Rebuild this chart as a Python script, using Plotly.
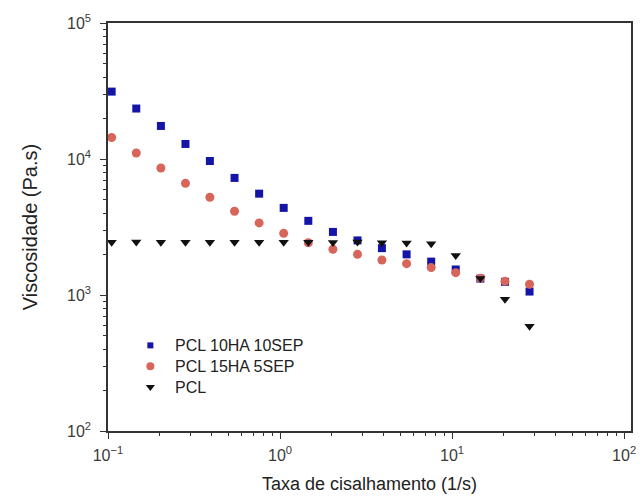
import plotly.graph_objects as go

# shear rate (1/s)
shear_rate = [0.105, 0.146, 0.203, 0.282, 0.391, 0.544, 0.756, 1.05, 1.46,
              2.03, 2.82, 3.91, 5.44, 7.56, 10.5, 14.6, 20.3, 28.2]
# viscosity (Pa.s)
visc_10ha_10sep = [31300, 23500, 17500, 12900, 9670, 7260, 5560, 4370, 3510,
                   2910, 2520, 2210, 1990, 1760, 1540, 1320, 1250, 1060]
visc_15ha_5sep = [14400, 11070, 8590, 6620, 5230, 4130, 3390, 2840, 2420,
                  2170, 1990, 1810, 1700, 1590, 1460, 1330, 1260, 1200]
visc_pcl = [2440, 2450, 2440, 2440, 2440, 2440, 2440, 2440, 2440,
            2430, 2450, 2420, 2410, 2380, 1950, 1320, 930, 590]

series_names = ["PCL 10HA 10SEP", "PCL 15HA 5SEP", "PCL"]
series_colors = ["#1414a8", "#d8655a", "#111111"]
series_symbols = ["square", "circle", "triangle-down"]
series_sizes = [8, 9, 9]
legend_sizes = [6, 8, 8]
series_values = [visc_10ha_10sep, visc_15ha_5sep, visc_pcl]

x_tickvals = [0.1, 1, 10, 100]
x_ticktext = ["10<sup>−1</sup>", "10<sup>0</sup>", "10<sup>1</sup>", "10<sup>2</sup>"]
y_tickvals = [100, 1000, 10000, 100000]
y_ticktext = ["10<sup>2</sup>", "10<sup>3</sup>", "10<sup>4</sup>", "10<sup>5</sup>"]

x_minor = [m * 10 ** e for e in (-1, 0, 1) for m in range(2, 10)]
y_minor = [m * 10 ** e for e in (2, 3, 4) for m in range(2, 10)]

FONT = "Liberation Sans, Arial, sans-serif"
LEGEND_FONT = 16

fig = go.Figure()
for name, vals, col, sym, sz in zip(series_names, series_values, series_colors,
                                    series_symbols, series_sizes):
    fig.add_trace(go.Scatter(x=shear_rate, y=vals, mode="markers", name=name,
                             showlegend=False,
                             marker=dict(symbol=sym, size=sz, color=col)))

# custom legend: markers on an overlay axis (plot-fraction units), labels as one text block
legend_x_marker = 0.081
legend_x_text = 0.125
legend_center = 0.159
row_step = LEGEND_FONT * 1.3 / 409  # one text line, in plot fraction
legend_rows = [legend_center + row_step, legend_center, legend_center - row_step]
for name, col, sym, sz, ly in zip(series_names, series_colors, series_symbols,
                                  legend_sizes, legend_rows):
    fig.add_trace(go.Scatter(x=[legend_x_marker], y=[ly], mode="markers",
                             xaxis="x2", yaxis="y2", showlegend=False, hoverinfo="skip",
                             marker=dict(symbol=sym, size=sz, color=col)))
fig.add_annotation(x=legend_x_text, y=legend_center, xref="paper", yref="paper",
                   text="<br>".join(series_names), showarrow=False, align="left",
                   xanchor="left", yanchor="middle",
                   font=dict(family=FONT, size=LEGEND_FONT, color="#222222"))

axis_common = dict(
    showgrid=False, zeroline=False, showline=True, linecolor="#333333", linewidth=1.5,
    mirror=True, ticks="outside", ticklen=6, tickwidth=1.2, tickcolor="#333333",
    tickfont=dict(family=FONT, size=16, color="#3a3a3a"),
)

fig.update_layout(
    width=643, height=498,
    margin=dict(l=108, r=7, t=23, b=66),
    paper_bgcolor="white", plot_bgcolor="white",
    font=dict(family=FONT, color="#222222"),
    xaxis=dict(type="log", range=[-1, 2.04], tickmode="array", tickvals=x_tickvals,
               ticktext=x_ticktext, ticklabelstandoff=3,
               title=dict(text="Taxa de cisalhamento (1/s)", font=dict(size=18, color="#222222"), standoff=14),
               minor=dict(tickmode="array", tickvals=x_minor, ticks="outside", ticklen=3,
                          tickwidth=1.2, tickcolor="#333333", showgrid=False),
               **axis_common),
    yaxis=dict(type="log", range=[2, 5], tickmode="array", tickvals=y_tickvals,
               ticktext=y_ticktext, ticklabelstandoff=6,
               title=dict(text="Viscosidade (Pa.s)", font=dict(size=20, color="#222222"), standoff=24),
               minor=dict(tickmode="array", tickvals=y_minor, ticks="outside", ticklen=3,
                          tickwidth=1.2, tickcolor="#333333", showgrid=False),
               **axis_common),
    xaxis2=dict(overlaying="x", range=[0, 1], visible=False, fixedrange=True),
    yaxis2=dict(overlaying="y", range=[0, 1], visible=False, fixedrange=True),
    showlegend=False,
)

fig.write_html("out.html")
